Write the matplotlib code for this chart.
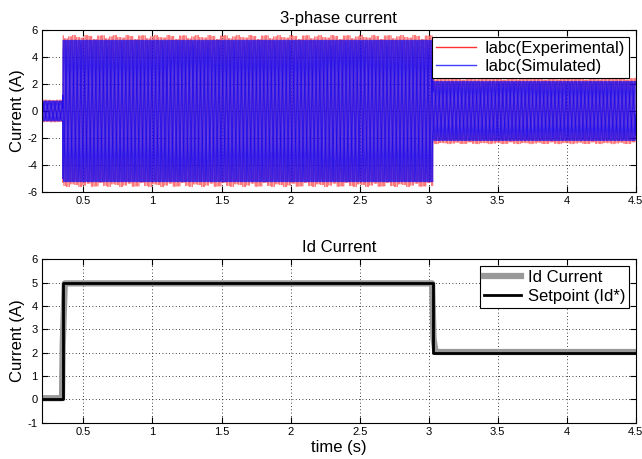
import numpy as np
import matplotlib
matplotlib.use("Agg")
import matplotlib.pyplot as plt

plt.rcParams['font.family'] = ['Liberation Sans', 'DejaVu Sans']
plt.rcParams['axes.unicode_minus'] = False

# segment boundaries (s) and peak amplitudes (A)
seg_edges = [0.2, 0.35, 3.03, 4.5]
amp_sim = [0.75, 5.25, 2.2]
amp_exp = [0.8, 5.4, 2.35]
elec_freq = 33.7  # Hz, only sets how dense the stripes look

# Id current (measured) and setpoint
id_t = [0.2, 0.345, 0.35, 0.365, 3.025, 3.035, 3.05, 4.5]
id_meas = [0.05, 0.05, 2.3, 4.97, 4.97, 2.6, 2.03, 2.03]
sp_t = [0.2, 0.35, 0.35, 3.03, 3.03, 4.5]
sp_val = [0, 0, 5, 5, 2, 2]

t = np.linspace(0.2, 4.5, 40000)
idx = np.searchsorted(seg_edges, t, side='right') - 1
idx = np.clip(idx, 0, 2)
a_sim = np.array(amp_sim)[idx]
a_exp = np.array(amp_exp)[idx]

fig = plt.figure(figsize=(6.42, 4.59), dpi=100)
ax1 = fig.add_axes([0.0654, 0.5817, 0.925, 0.353])
ax2 = fig.add_axes([0.0654, 0.0790, 0.925, 0.356])

w = 2 * np.pi * elec_freq * t
for k in range(3):
    ph = w - k * 2 * np.pi / 3
    ax1.plot(t, a_exp * np.sin(ph) * (1 + 0.04 * np.cos(7.3 * ph)), color='#ff2020', lw=0.5, alpha=0.6)
for k in range(3):
    ph = w - k * 2 * np.pi / 3
    ax1.plot(t, a_sim * np.sin(ph), color='#0000ff', lw=0.7, alpha=0.7)
ax1.plot([], [], color='#ff3030', lw=1, label='Iabc(Experimental)')
ax1.plot([], [], color='#4040ff', lw=1, label='Iabc(Simulated)')

ax1.set_xlim(0.2, 4.5)
ax1.set_ylim(-6, 6)
ax1.set_yticks([-6, -4, -2, 0, 2, 4, 6])
ax1.set_xticks([0.5, 1, 1.5, 2, 2.5, 3, 3.5, 4, 4.5])
ax1.set_xticklabels(['0.5', '1', '1.5', '2', '2.5', '3', '3.5', '4', '4.5'])
ax1.set_title('3-phase current', fontsize=12, pad=5)
ax1.set_ylabel('Current (A)', fontsize=12, labelpad=2)
leg1 = ax1.legend(loc='upper right', fontsize=12, frameon=True, fancybox=False, framealpha=1,
                  edgecolor='black', borderpad=0.25, handlelength=2.4, labelspacing=0.2,
                  handletextpad=0.5, borderaxespad=0.4)
leg1.get_frame().set_linewidth(0.8)

ax2.plot(id_t, id_meas, color='#999999', lw=4.5, label='Id Current')
ax2.plot(sp_t, sp_val, color='black', lw=2, label='Setpoint (Id*)')
ax2.set_xlim(0.2, 4.5)
ax2.set_ylim(-1, 6)
ax2.set_yticks([-1, 0, 1, 2, 3, 4, 5, 6])
ax2.set_xticks([0.5, 1, 1.5, 2, 2.5, 3, 3.5, 4, 4.5])
ax2.set_xticklabels(['0.5', '1', '1.5', '2', '2.5', '3', '3.5', '4', '4.5'])
ax2.set_title('Id Current', fontsize=12, pad=5)
ax2.set_ylabel('Current (A)', fontsize=12, labelpad=2)
ax2.set_xlabel('time (s)', fontsize=12, labelpad=2)
leg2 = ax2.legend(loc='upper right', fontsize=12, frameon=True, fancybox=False, framealpha=1,
                  edgecolor='black', borderpad=0.25, handlelength=2.2, labelspacing=0.2,
                  handletextpad=0.4, borderaxespad=0.4)
leg2.get_frame().set_linewidth(0.8)

for ax in (ax1, ax2):
    ax.grid(True, linestyle=(0, (1, 3)), color='black', lw=0.6)
    ax.tick_params(direction='in', top=True, right=True, labelsize=8, length=4, pad=3)
    for s in ax.spines.values():
        s.set_linewidth(0.8)

fig.savefig('out.png', dpi=100)
